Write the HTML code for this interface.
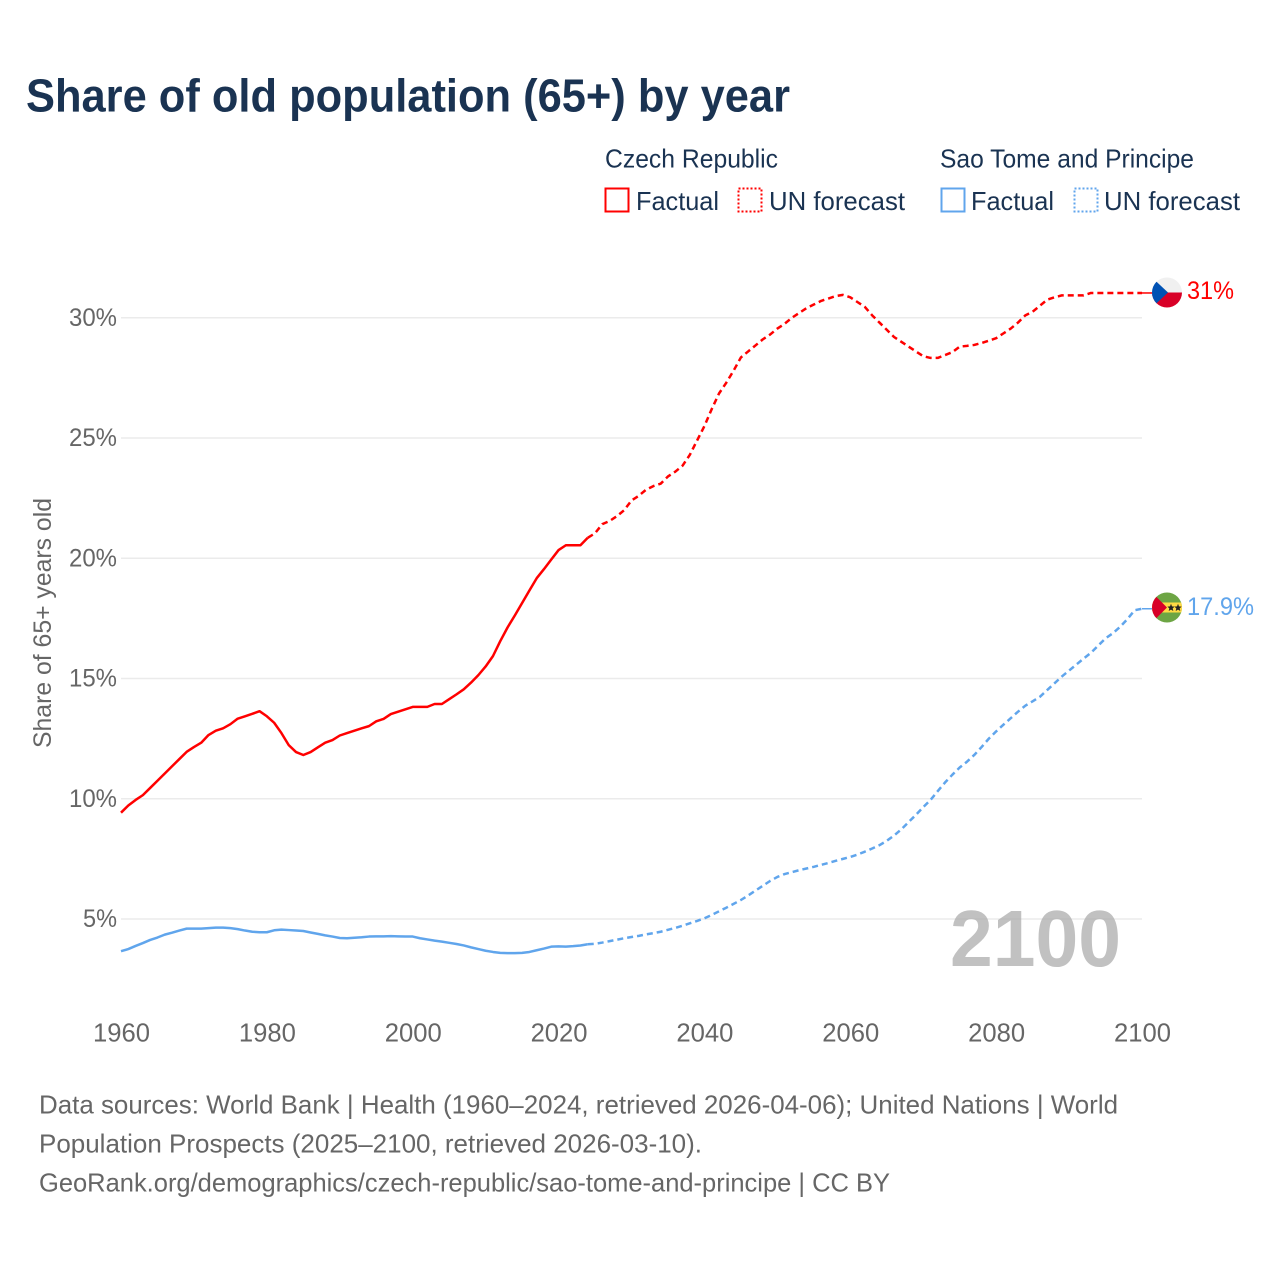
<!DOCTYPE html>
<html lang="en">
<head>
<meta charset="utf-8">
<title>Share of old population (65+) by year</title>
<style>
html,body{margin:0;padding:0;background:#fff}
svg{display:block}
text{font-family:"Liberation Sans",sans-serif}
</style>
</head>
<body>
<svg id="chart" xmlns="http://www.w3.org/2000/svg" width="1280" height="1280" viewBox="0 0 1280 1280">
  <rect x="0" y="0" width="1280" height="1280" fill="#fff"/>
  <text x="26" y="111.5" font-size="46" font-weight="700" fill="#1a3352" textLength="764" lengthAdjust="spacingAndGlyphs">Share of old population (65+) by year</text>

  <g font-size="26" fill="#1a3352">
    <text x="605" y="167.5" textLength="173" lengthAdjust="spacingAndGlyphs">Czech Republic</text>
    <text x="940" y="167.5" textLength="254" lengthAdjust="spacingAndGlyphs">Sao Tome and Principe</text>
    <rect x="605.5" y="188.5" width="23" height="23" fill="none" stroke="#ff0000" stroke-width="2"/>
    <text x="636" y="210" textLength="83" lengthAdjust="spacingAndGlyphs">Factual</text>
    <rect x="738.5" y="188.5" width="23" height="23" fill="none" stroke="#ff0000" stroke-width="2" stroke-dasharray="2 2"/>
    <text x="769" y="210" textLength="136" lengthAdjust="spacingAndGlyphs">UN forecast</text>
    <rect x="941.5" y="188.5" width="23" height="23" fill="none" stroke="#60a5ec" stroke-width="2"/>
    <text x="971" y="210" textLength="83" lengthAdjust="spacingAndGlyphs">Factual</text>
    <rect x="1074.5" y="188.5" width="23" height="23" fill="none" stroke="#60a5ec" stroke-width="2" stroke-dasharray="2 2"/>
    <text x="1104" y="210" textLength="136" lengthAdjust="spacingAndGlyphs">UN forecast</text>
  </g>

  <g id="grid"></g>
  <g id="yticks"></g>
  <g id="xticks"></g>
  <text transform="translate(51,748) rotate(-90)" x="0" y="0" font-size="25" fill="#666" textLength="250" lengthAdjust="spacingAndGlyphs">Share of 65+ years old</text>
  <text x="950" y="966" font-size="80" font-weight="700" fill="#a9a9a9" fill-opacity="0.72" textLength="171" lengthAdjust="spacingAndGlyphs">2100</text>
  <g id="series"></g>

  <g>
    <clipPath id="clip-cz"><circle cx="1167" cy="292.5" r="15"/></clipPath>
    <g clip-path="url(#clip-cz)">
      <rect x="1152" y="277.5" width="30" height="15" fill="#f0f0f0"/>
      <rect x="1152" y="292.5" width="30" height="15" fill="#d80027"/>
      <polygon points="1152,277.5 1168,292.5 1152,307.5" fill="#0052b4"/>
    </g>
  </g>
  <text x="1187" y="299" font-size="25" fill="#ff0000" textLength="47" lengthAdjust="spacingAndGlyphs">31%</text>

  <g>
    <clipPath id="clip-st"><circle cx="1167" cy="607.5" r="15"/></clipPath>
    <g clip-path="url(#clip-st)">
      <rect x="1152" y="592.5" width="30" height="30" fill="#6da544"/>
      <rect x="1152" y="602.5" width="30" height="10" fill="#ffda44"/>
      <polygon points="1152,592.5 1167,607.5 1152,622.5" fill="#d80027"/>
      <polygon points="1171,603.8 1172,606.4 1174.6,606.6 1172.7,608.4 1173.3,611 1171,609.6 1168.7,611 1169.3,608.4 1167.4,606.6 1170,606.4" fill="#222"/>
      <polygon points="1178,603.8 1179,606.4 1181.6,606.6 1179.7,608.4 1180.3,611 1178,609.6 1175.7,611 1176.3,608.4 1174.4,606.6 1177,606.4" fill="#222"/>
    </g>
  </g>
  <text x="1187" y="615" font-size="25" fill="#60a5ec" textLength="67" lengthAdjust="spacingAndGlyphs">17.9%</text>

  <g font-size="26" fill="#666">
    <text x="39" y="1113.5" textLength="1079" lengthAdjust="spacingAndGlyphs">Data sources: World Bank | Health (1960–2024, retrieved 2026-04-06); United Nations | World</text>
    <text x="39" y="1152.5" textLength="663" lengthAdjust="spacingAndGlyphs">Population Prospects (2025–2100, retrieved 2026-03-10).</text>
    <text x="39" y="1191.5" textLength="851" lengthAdjust="spacingAndGlyphs">GeoRank.org/demographics/czech-republic/sao-tome-and-principe | CC BY</text>
  </g>
</svg>
<script>
const yTickValues = [5, 10, 15, 20, 25, 30];
const xTickYears = [1960, 1980, 2000, 2020, 2040, 2060, 2080, 2100];

const czechFactualYears = [1960,1961,1962,1963,1964,1965,1966,1967,1968,1969,1970,1971,1972,1973,1974,1975,1976,1977,1978,1979,1980,1981,1982,1983,1984,1985,1986,1987,1988,1989,1990,1991,1992,1993,1994,1995,1996,1997,1998,1999,2000,2001,2002,2003,2004,2005,2006,2007,2008,2009,2010,2011,2012,2013,2014,2015,2016,2017,2018,2019,2020,2021,2022,2023,2024];
const czechFactualValues = [9.42,9.72,9.95,10.15,10.45,10.75,11.05,11.35,11.65,11.95,12.15,12.33,12.65,12.83,12.93,13.1,13.33,13.43,13.53,13.64,13.43,13.16,12.73,12.23,11.94,11.82,11.94,12.14,12.33,12.44,12.63,12.73,12.83,12.93,13.02,13.22,13.32,13.52,13.62,13.72,13.82,13.82,13.82,13.94,13.94,14.14,14.34,14.55,14.83,15.14,15.5,15.93,16.55,17.12,17.62,18.14,18.66,19.17,19.55,19.95,20.34,20.54,20.54,20.54,20.85];
const czechForecastYears = [2024,2025,2026,2027,2028,2029,2030,2031,2032,2033,2034,2035,2036,2037,2038,2039,2040,2041,2042,2043,2044,2045,2046,2047,2048,2049,2050,2051,2052,2053,2054,2055,2056,2057,2058,2059,2060,2061,2062,2063,2064,2065,2066,2067,2068,2069,2070,2071,2072,2073,2074,2075,2076,2077,2078,2079,2080,2081,2082,2083,2084,2085,2086,2087,2088,2089,2090,2091,2092,2093,2094,2095,2096,2097,2098,2099,2100];
const czechForecastValues = [20.85,21.04,21.42,21.55,21.75,22.0,22.4,22.6,22.85,23.0,23.1,23.4,23.6,23.85,24.3,24.9,25.5,26.2,26.85,27.3,27.8,28.35,28.6,28.85,29.1,29.3,29.55,29.75,30.0,30.2,30.4,30.55,30.7,30.8,30.9,30.95,30.85,30.65,30.45,30.1,29.8,29.5,29.2,29.0,28.8,28.6,28.4,28.33,28.33,28.45,28.57,28.8,28.83,28.87,28.95,29.05,29.15,29.35,29.55,29.8,30.1,30.25,30.5,30.75,30.85,30.93,30.93,30.93,30.93,31.03,31.03,31.03,31.03,31.03,31.03,31.03,31.03];

const stpFactualYears = [1960,1961,1962,1963,1964,1965,1966,1967,1968,1969,1970,1971,1972,1973,1974,1975,1976,1977,1978,1979,1980,1981,1982,1983,1984,1985,1986,1987,1988,1989,1990,1991,1992,1993,1994,1995,1996,1997,1998,1999,2000,2001,2002,2003,2004,2005,2006,2007,2008,2009,2010,2011,2012,2013,2014,2015,2016,2017,2018,2019,2020,2021,2022,2023,2024];
const stpFactualValues = [3.66,3.75,3.88,4.0,4.13,4.23,4.35,4.43,4.52,4.6,4.6,4.6,4.62,4.64,4.64,4.62,4.58,4.52,4.47,4.45,4.45,4.53,4.56,4.54,4.52,4.5,4.44,4.38,4.32,4.27,4.21,4.2,4.22,4.24,4.27,4.28,4.28,4.29,4.28,4.27,4.27,4.2,4.15,4.1,4.06,4.01,3.96,3.9,3.82,3.75,3.68,3.63,3.59,3.58,3.58,3.59,3.63,3.7,3.77,3.85,3.86,3.85,3.87,3.9,3.95];
const stpForecastYears = [2024,2025,2026,2027,2028,2029,2030,2031,2032,2033,2034,2035,2036,2037,2038,2039,2040,2041,2042,2043,2044,2045,2046,2047,2048,2049,2050,2051,2052,2053,2054,2055,2056,2057,2058,2059,2060,2061,2062,2063,2064,2065,2066,2067,2068,2069,2070,2071,2072,2073,2074,2075,2076,2077,2078,2079,2080,2081,2082,2083,2084,2085,2086,2087,2088,2089,2090,2091,2092,2093,2094,2095,2096,2097,2098,2099,2100];
const stpForecastValues = [3.95,3.97,4.02,4.08,4.14,4.2,4.25,4.3,4.36,4.41,4.47,4.55,4.63,4.72,4.82,4.92,5.03,5.17,5.32,5.47,5.63,5.79,5.98,6.18,6.38,6.58,6.75,6.87,6.95,7.03,7.1,7.17,7.25,7.33,7.42,7.5,7.58,7.68,7.8,7.93,8.07,8.25,8.47,8.73,9.03,9.33,9.65,9.95,10.32,10.68,11.0,11.3,11.54,11.82,12.15,12.5,12.8,13.08,13.35,13.62,13.87,14.05,14.24,14.52,14.8,15.08,15.33,15.58,15.83,16.07,16.37,16.67,16.88,17.15,17.47,17.84,17.9];

const colorCzech = '#ff0000';
const colorStp = '#60a5ec';
const SVGNS = 'http://www.w3.org/2000/svg';

function xScale(year) { return 121 + (year - 1960) * (1021 / 140); }
function yScale(value) { return 919 - (value - 5) * 24.05; }

function pathFrom(years, values) {
  return years.map(function (yr, i) {
    return (i ? 'L' : 'M') + xScale(yr).toFixed(2) + ' ' + yScale(values[i]).toFixed(2);
  }).join(' ');
}

const grid = document.getElementById('grid');
const yticks = document.getElementById('yticks');
const xticks = document.getElementById('xticks');
const series = document.getElementById('series');

yTickValues.forEach(function (v) {
  const line = document.createElementNS(SVGNS, 'line');
  
  
  line.setAttribute('x1', xScale(1960));
  line.setAttribute('x2', xScale(2100));
  line.setAttribute('y1', yScale(v));
  line.setAttribute('y2', yScale(v));
  line.setAttribute('stroke', '#ebebeb');
  line.setAttribute('stroke-width', '1.5');
  grid.appendChild(line);

  const label = document.createElementNS(SVGNS, 'text');
  const str = v + '%';
  
  
  label.setAttribute('x', 117 - (14 * (str.length - 1) + 20));
  label.setAttribute('y', yScale(v) + 8);
  label.setAttribute('font-size', '25');
  label.setAttribute('fill', '#666');
  label.setAttribute('textLength', 14 * (str.length - 1) + 20);
  label.setAttribute('lengthAdjust', 'spacingAndGlyphs');
  label.textContent = str;
  yticks.appendChild(label);
});

xTickYears.forEach(function (yr) {
  const label = document.createElementNS(SVGNS, 'text');
  
  
  label.setAttribute('x', xScale(yr) - 28);
  label.setAttribute('y', 1041.5);
  label.setAttribute('font-size', '26');
  label.setAttribute('fill', '#666');
  label.setAttribute('textLength', 57);
  label.setAttribute('lengthAdjust', 'spacingAndGlyphs');
  label.textContent = yr;
  xticks.appendChild(label);
});

function addLine(name, years, values, color, dashed) {
  const p = document.createElementNS(SVGNS, 'path');
  
  
  p.setAttribute('d', pathFrom(years, values));
  p.setAttribute('fill', 'none');
  p.setAttribute('stroke', color);
  p.setAttribute('stroke-width', '2.5');
  p.setAttribute('stroke-linejoin', 'round');
  if (dashed) p.setAttribute('stroke-dasharray', '6 4');
  series.appendChild(p);
}

function addConnector(name, value, color) {
  const c = document.createElementNS(SVGNS, 'line');
  
  
  c.setAttribute('x1', xScale(2100));
  c.setAttribute('x2', xScale(2100) + 10);
  c.setAttribute('y1', yScale(value));
  c.setAttribute('y2', yScale(value));
  c.setAttribute('stroke', color);
  c.setAttribute('stroke-width', '1.5');
  series.appendChild(c);
}

addLine('line-czech-factual', czechFactualYears, czechFactualValues, colorCzech, false);
addLine('line-czech-forecast', czechForecastYears, czechForecastValues, colorCzech, true);
addLine('line-stp-factual', stpFactualYears, stpFactualValues, colorStp, false);
addLine('line-stp-forecast', stpForecastYears, stpForecastValues, colorStp, true);
addConnector('connector-czech', czechForecastValues[czechForecastValues.length - 1], colorCzech);
addConnector('connector-stp', stpForecastValues[stpForecastValues.length - 1], colorStp);
</script>
</body>
</html>
